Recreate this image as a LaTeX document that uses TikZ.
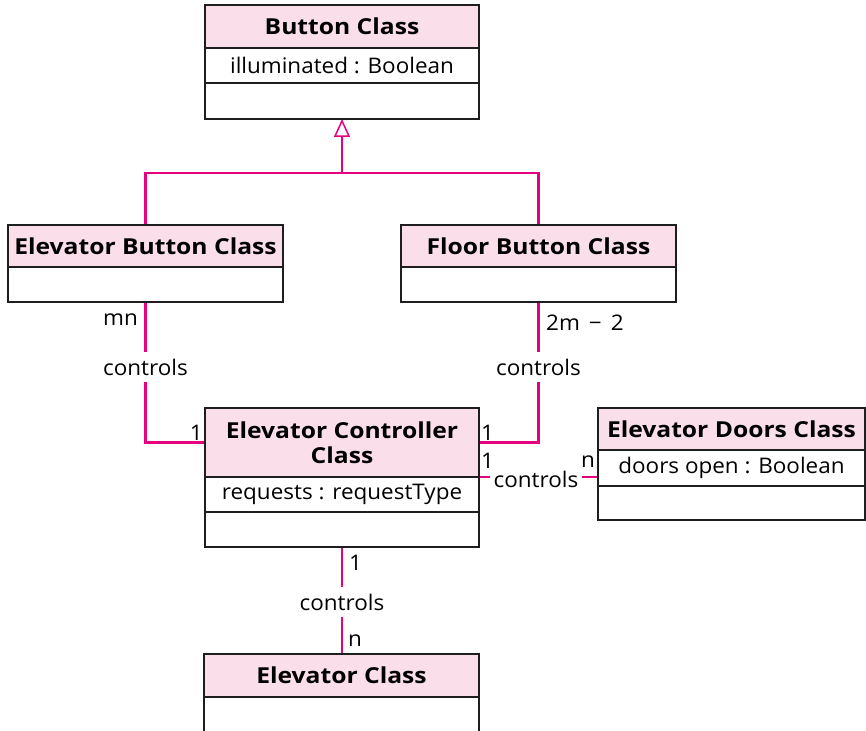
\documentclass[tikz,border=0pt]{standalone}
\usepackage{fontspec}
\setmainfont{Open Sans}[FakeStretch=1.045, BoldFeatures={FakeStretch=1.12}]
\usetikzlibrary{arrows.meta,backgrounds}
\definecolor{hdrpink}{RGB}{250,222,233}
\definecolor{mag}{RGB}{230,0,126}
\definecolor{boxline}{RGB}{30,30,30}
\begin{document}
\begin{tikzpicture}[x=1pt,y=-1pt,
  cls/.style={draw=boxline, line width=1.6pt, outer sep=0pt, inner sep=0pt, anchor=north west, align=center},
  hdr/.style={cls, fill=hdrpink, font=\bfseries\fontsize{22}{25}\selectfont},
  cmp/.style={cls, fill=white, font=\fontsize{21.5}{25}\selectfont},
  assoc/.style={draw=mag, line width=2.8pt},
  lbl/.style={font=\fontsize{21.5}{25}\selectfont, inner sep=0pt},
  verb/.style={font=\fontsize{21.5}{25}\selectfont, fill=white, inner xsep=3pt, inner ysep=7pt},
]
\useasboundingbox (0,0) rectangle (866,730);
\clip (0,0) rectangle (866,730);

% Button Class
\node[hdr, minimum width=274pt, minimum height=43pt] (bh) at (205,5) {Button Class};
\node[cmp, minimum width=274pt, minimum height=35pt] (ba) at (bh.south west) {illuminated : Boolean};
\node[cmp, minimum width=274pt, minimum height=36pt] (bo) at (ba.south west) {};

% Elevator Button Class
\node[hdr, minimum width=275pt, minimum height=42pt] (ebh) at (8,225) {Elevator Button Class};
\node[cmp, minimum width=275pt, minimum height=35pt] (ebo) at (ebh.south west) {};

% Floor Button Class
\node[hdr, minimum width=275pt, minimum height=42pt] (fbh) at (401,225) {Floor Button Class};
\node[cmp, minimum width=275pt, minimum height=35pt] (fbo) at (fbh.south west) {};

% Elevator Controller Class
\node[hdr, minimum width=274pt, minimum height=69pt] (ch) at (205,408) {Elevator Controller\\Class};
\node[cmp, minimum width=274pt, minimum height=35pt] (ca) at (ch.south west) {requests : requestType};
\node[cmp, minimum width=274pt, minimum height=35pt] (co) at (ca.south west) {};

% Elevator Doors Class
\node[hdr, minimum width=267pt, minimum height=42pt] (dh) at (598,408) {Elevator Doors Class};
\node[cmp, minimum width=267pt, minimum height=36pt] (da) at (dh.south west) {doors open : Boolean};
\node[cmp, minimum width=267pt, minimum height=34pt] (do) at (da.south west) {};

% Elevator Class
\node[hdr, minimum width=275pt, minimum height=43pt] (eh) at (204,654) {Elevator Class};
\node[cmp, minimum width=275pt, minimum height=45pt] (eo) at (eh.south west) {};

% connectors
\coordinate (j) at (bo.south |- 0,173);
\begin{scope}[on background layer]
  \draw[assoc] (ebh.north) |- (j) -| (fbh.north);
  \draw[assoc, -{Triangle[open, line width=1.5pt, length=18pt, width=16pt]}] (j) -- (bo.south);
  \draw[assoc] (ebo.south) |- (ch.west);
  \draw[assoc] (fbo.south) |- (ch.east);
  \draw[assoc] (ch.south east) -- (ch.south east -| da.west);
  \draw[assoc] (co.south) -- (co.south |- eh.north);
\end{scope}

% association names
\node[verb] (v1) at (ebo.south |- 0,367) {controls};
\node[verb] (v2) at (fbo.south |- 0,367) {controls};
\node[verb, inner xsep=4pt] (v3) at (536,479) {controls};
\node[verb] (v4) at (co.south |- 0,602) {controls};

% multiplicities
\node[lbl, anchor=base east] (m1) at (138,325) {mn};
\node[lbl, anchor=base east] (m2) at (203,440) {1};
\node[lbl, anchor=base west] (m3) at (546,330) {2m\hspace{0.42em}−\hspace{0.42em}2};
\node[lbl, anchor=base west] (m4) at (481,440) {1};
\node[lbl, anchor=base west] (m5) at (481,468) {1};
\node[lbl, anchor=base east] (m6) at (595,467) {n};
\node[lbl, anchor=base west] (m7) at (349,570) {1};
\node[lbl, anchor=base west] (m8) at (348,646) {n};
\end{tikzpicture}
\end{document}
